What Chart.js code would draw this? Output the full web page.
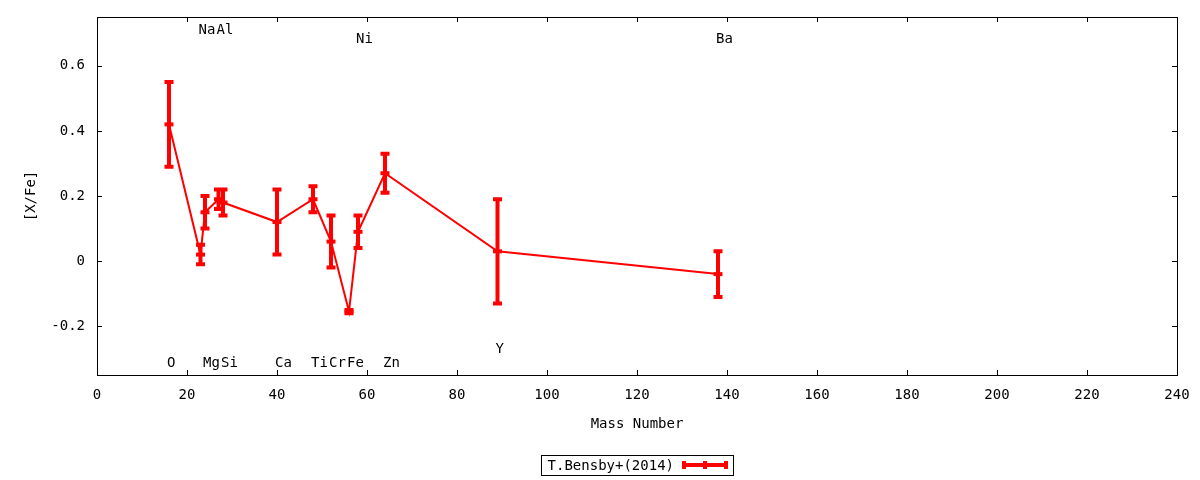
<!DOCTYPE html>
<html>
<head>
<meta charset="utf-8">
<script src="https://cdn.jsdelivr.net/npm/chart.js@4.4.0/dist/chart.umd.min.js"></script>
<style>
    html, body { margin: 0; padding: 0; background: #fff; }
</style>
</head>
<body>
<canvas id="chart" width="1200" height="480"></canvas>
<script>
// abundances per element
const elements = ['O', 'Na', 'Mg', 'Al', 'Si', 'Ca', 'Ti', 'Cr', 'Fe', 'Ni', 'Zn', 'Y', 'Ba'];
const massNumbers = [16, 23, 24, 27, 28, 40, 48, 52, 56, 58, 64, 89, 138];
const abundances = [0.42, 0.02, 0.15, 0.19, 0.18, 0.12, 0.19, 0.06, -0.155, 0.09, 0.27, 0.03, -0.04];
const errors = [0.13, 0.03, 0.05, 0.03, 0.04, 0.10, 0.04, 0.08, 0.005, 0.05, 0.06, 0.16, 0.07];
const labelY = [-0.315, 0.71, -0.315, 0.71, -0.315, -0.315, -0.315, -0.315, -0.315, 0.68, -0.315, -0.27, 0.68];
const xTicks = [0, 20, 40, 60, 80, 100, 120, 140, 160, 180, 200, 220, 240];
const yTicks = [-0.2, 0, 0.2, 0.4, 0.6];
const seriesName = 'T.Bensby+(2014)';

const RED = '#ff0000';
const FONT = { family: 'DejaVu Sans Mono', size: 14 };
Chart.defaults.font.family = FONT.family;
Chart.defaults.font.size = FONT.size;
Chart.defaults.color = '#000';

// border box + gnuplot style inward ticks (mirrored)
const framePlugin = {
    id: 'frame',
    afterDraw(chart) {
        const { ctx, chartArea: a, scales: { x, y } } = chart;
        const len = 5;
        ctx.save();
        ctx.strokeStyle = '#000';
        ctx.lineWidth = 1;
        ctx.beginPath();
        x.ticks.forEach(t => {
            const px = Math.round(x.getPixelForValue(t.value)) + 0.5;
            ctx.moveTo(px, a.bottom); ctx.lineTo(px, a.bottom - len);
            ctx.moveTo(px, a.top); ctx.lineTo(px, a.top + len);
        });
        y.ticks.forEach(t => {
            const py = Math.round(y.getPixelForValue(t.value)) + 0.5;
            ctx.moveTo(a.left, py); ctx.lineTo(a.left + len, py);
            ctx.moveTo(a.right, py); ctx.lineTo(a.right - len, py);
        });
        ctx.stroke();
        ctx.strokeRect(Math.round(a.left) + 0.5, Math.round(a.top) + 0.5,
            Math.round(a.right - a.left), Math.round(a.bottom - a.top));
        ctx.restore();
    }
};

const errorBarPlugin = {
    id: 'errorBars',
    afterDatasetsDraw(chart) {
        const { ctx, scales: { x, y } } = chart;
        const cap = 4.5;
        ctx.save();
        ctx.strokeStyle = RED;
        ctx.lineWidth = 4;
        ctx.beginPath();
        massNumbers.forEach((m, i) => {
            const px = x.getPixelForValue(m);
            const top = y.getPixelForValue(abundances[i] + errors[i]);
            const bot = y.getPixelForValue(abundances[i] - errors[i]);
            ctx.moveTo(px, top); ctx.lineTo(px, bot);
            ctx.moveTo(px - cap, top); ctx.lineTo(px + cap, top);
            ctx.moveTo(px - cap, bot); ctx.lineTo(px + cap, bot);
        });
        ctx.stroke();
        ctx.restore();
    }
};

const elementLabelPlugin = {
    id: 'elementLabels',
    afterDraw(chart) {
        const { ctx, scales: { x, y } } = chart;
        ctx.save();
        ctx.font = FONT.size + 'px ' + FONT.family;
        ctx.fillStyle = '#000';
        ctx.textAlign = 'left';
        ctx.textBaseline = 'middle';
        elements.forEach((el, i) => {
            ctx.fillText(el, x.getPixelForValue(massNumbers[i]) - 2, y.getPixelForValue(labelY[i]));
        });
        ctx.restore();
    }
};

// key below the axis title, text left of the sample like gnuplot
const keyPlugin = {
    id: 'key',
    afterDraw(chart) {
        const { ctx, chartArea: a } = chart;
        const cx = Math.round((a.left + a.right) / 2);
        const w = 192, h = 20, top = 455;
        const left = cx - w / 2;
        const mid = top + h / 2;
        ctx.save();
        ctx.strokeStyle = '#000';
        ctx.lineWidth = 1;
        ctx.strokeRect(left + 0.5, top + 0.5, w, h);
        ctx.font = FONT.size + 'px ' + FONT.family;
        ctx.fillStyle = '#000';
        ctx.textAlign = 'right';
        ctx.textBaseline = 'middle';
        ctx.fillText(chart.data.datasets[0].label, left + 133, mid + 1);
        const x0 = left + 143, x1 = left + 185;
        ctx.strokeStyle = RED;
        ctx.lineWidth = 4;
        ctx.beginPath();
        ctx.moveTo(x0, mid); ctx.lineTo(x1, mid);
        [x0, (x0 + x1) / 2, x1].forEach(px => {
            ctx.moveTo(px, mid - 4); ctx.lineTo(px, mid + 4);
        });
        ctx.stroke();
        ctx.restore();
    }
};

new Chart(document.getElementById('chart'), {
    type: 'line',
    data: {
        datasets: [{
            label: seriesName,
            data: massNumbers.map((m, i) => ({ x: m, y: abundances[i] })),
            borderColor: RED,
            backgroundColor: RED,
            borderWidth: 2,
            tension: 0,
            pointStyle: 'line',
            pointRadius: 4.5,
            pointHoverRadius: 4.5,
            pointBorderWidth: 4,
            clip: false
        }]
    },
    options: {
        responsive: false,
        animation: false,
        devicePixelRatio: 1,
        layout: { padding: { top: 17, right: 23, left: 0, bottom: 40 } },
        plugins: { legend: { display: false }, tooltip: { enabled: false } },
        scales: {
            x: {
                type: 'linear',
                min: 0, max: 240,
                afterBuildTicks: s => { s.ticks = xTicks.map(v => ({ value: v })); },
                afterFit: s => { s.height = 65; s.paddingLeft = 0; s.paddingRight = 0; },
                ticks: { padding: 12, color: '#000', callback: v => String(v) },
                grid: { display: false, drawTicks: false },
                border: { display: false },
                title: { display: true, text: 'Mass Number', color: '#000', padding: { top: 0, bottom: 7 } }
            },
            y: {
                type: 'linear',
                min: -0.35, max: 0.75,
                afterBuildTicks: s => { s.ticks = yTicks.map(v => ({ value: v })); },
                afterFit: s => { s.width = 97; s.paddingTop = 0; s.paddingBottom = 0; },
                ticks: { padding: 12, color: '#000', callback: v => Math.abs(v) < 1e-9 ? '0' : v.toFixed(1) },
                grid: { display: false, drawTicks: false },
                border: { display: false },
                title: { display: true, text: '[X/Fe]', color: '#000', padding: { top: 23, bottom: 0 } }
            }
        }
    },
    plugins: [errorBarPlugin, framePlugin, elementLabelPlugin, keyPlugin]
});
</script>
</body>
</html>
